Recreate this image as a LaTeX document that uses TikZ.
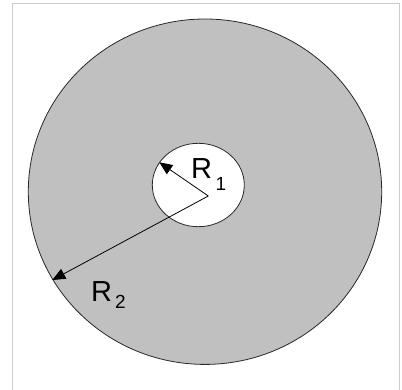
\documentclass[tikz,border=0pt]{standalone}
\usepackage{fontspec}
\setmainfont{Liberation Sans}
\usetikzlibrary{arrows.meta}
\begin{document}
\begin{tikzpicture}[x=1pt,y=-1pt,
  lbl/.style={inner sep=0pt, anchor=base west},
  radius arrow/.style={draw=black, line width=0.8pt, -{Triangle[length=13pt,width=11pt]}}]
\useasboundingbox (0,0) rectangle (402,389);
\fill[white] (0,0) rectangle (402,389);
\draw[color={rgb,255:red,204;green,204;blue,204}, line width=1pt] (12.5,400) -- (12.5,3.5) -- (399,3.5) -- (399,400);
\draw[fill={rgb,255:red,192;green,192;blue,192}, draw={rgb,255:red,40;green,40;blue,40}, line width=0.8pt]
  (205,191.7) ellipse [x radius=176.7, y radius=172.7];
\draw[fill=white, draw={rgb,255:red,40;green,40;blue,40}, line width=0.8pt]
  (198.3,185) ellipse [x radius=46, y radius=41.7];
\coordinate (c) at (208.3,196);
\coordinate (t1) at (159.3,162.3);
\coordinate (t2) at (52.3,280);
\draw[radius arrow] (c) -- (t1);
\draw[radius arrow] (c) -- (t2);
\node[lbl] (r1) at (191,178.3) {\fontsize{29}{29}\selectfont R\kern3.5pt\raisebox{-11.7pt}{\fontsize{19}{19}\selectfont 1}};
\node[lbl] (r2) at (91,301.7) {\fontsize{29}{29}\selectfont R\kern3pt\raisebox{-6.6pt}{\fontsize{19}{19}\selectfont 2}};
\end{tikzpicture}
\end{document}
